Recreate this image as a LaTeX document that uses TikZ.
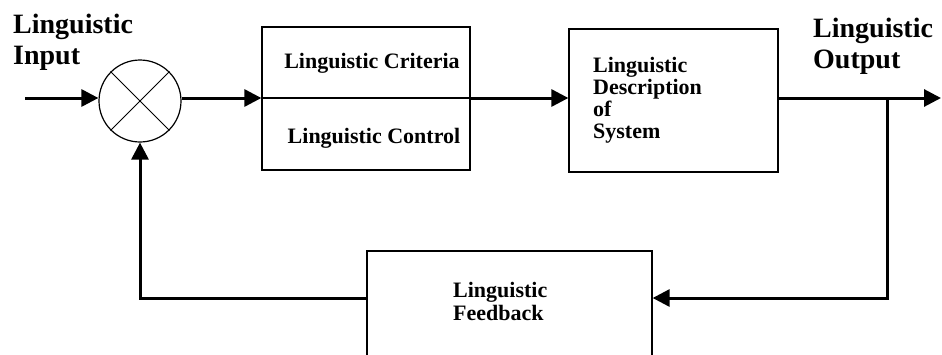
\documentclass[tikz,border=0pt]{standalone}
\usepackage{fontspec}
\setmainfont{Liberation Serif}
\usetikzlibrary{arrows.meta}
\begin{document}
\begin{tikzpicture}[x=1pt,y=-1pt,
  flow/.style={line width=3pt, -{Triangle[length=17pt,width=17pt]}},
  blk/.style={draw, line width=1.3pt, inner sep=0pt},
  lbl/.style={font=\bfseries\fontsize{22}{21.7}\selectfont, inner sep=0pt, align=left},
  fbl/.style={font=\bfseries\fontsize{22}{23}\selectfont, inner sep=0pt, align=left},
  ttl/.style={font=\bfseries\fontsize{28}{31}\selectfont, inner sep=0pt, align=left}]
\useasboundingbox (0,0) rectangle (942,354);
% blocks
\node[blk, minimum width=208pt, minimum height=143pt] (box1) at (366,98.5) {};
\node[blk, minimum width=209pt, minimum height=143pt] (box2) at (673.5,100.5) {};
\node[blk, minimum width=285pt, minimum height=149pt] (fb) at (509.5,325.5) {};
\node[circle, draw, line width=1.2pt, minimum size=82pt, inner sep=0pt] (mix) at (140,101) {};
\draw[line width=1pt] (mix.north east) -- (mix.south west) (mix.north west) -- (mix.south east);
% texts (base anchor = baseline of last line)
\node[ttl, anchor=base west] (inl) at (13,64) {Linguistic\\Input};
\node[ttl, anchor=base west] (outl) at (813,68) {Linguistic\\Output};
\node[lbl, anchor=base] (crit) at (372,68) {Linguistic Criteria};
\node[lbl, anchor=base] (ctrl) at (374,143) {Linguistic Control};
\node[lbl, anchor=base west] (desc) at (593,138) {Linguistic\\Description\\of\\System};
\node[fbl, anchor=base west] (fbt) at (453,320) {Linguistic\\Feedback};
% connectors
\coordinate (in) at (25,98);
\coordinate (out) at (941,98);
\coordinate (j) at (887,98);
\coordinate (c) at (887,298);
\draw[flow] (in) -- (in -| mix.west);
\draw[flow] (mix.east |- in) -- (box1.west |- in);
\draw[line width=1.3pt] (box1.west |- in) -- (box1.east |- in);
\draw[flow] (box1.east |- in) -- (box2.west |- in);
\draw[flow] (box2.east |- in) -- (out);
\draw[flow] (j) -- (c) -- (fb.east |- c);
\draw[flow] (fb.west |- c) -- (mix.center |- c) -- (mix.south);
\end{tikzpicture}
\end{document}
